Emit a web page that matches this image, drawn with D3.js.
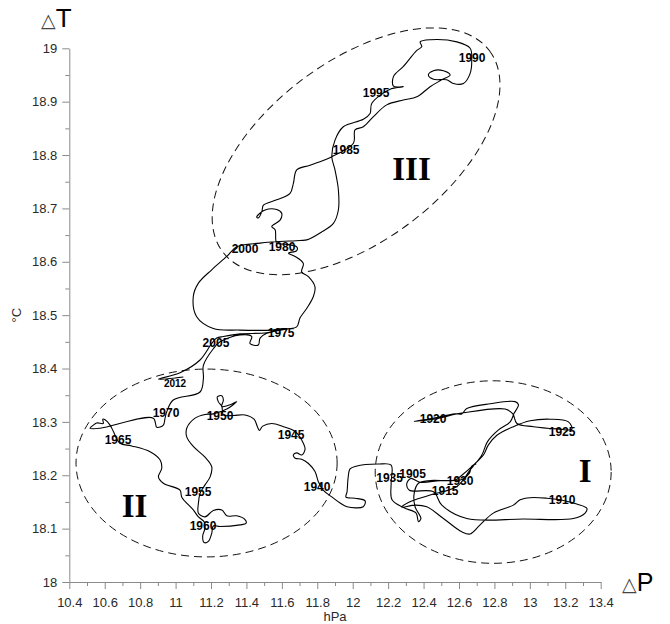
<!DOCTYPE html>
<html><head><meta charset="utf-8">
<script src="https://cdn.jsdelivr.net/npm/d3@7"></script>
<style>body{margin:0;background:#fff}svg{display:block}</style>
</head><body><svg id="c" width="670" height="624"></svg>
<script>
// ---- data ----
const xTicks = [10.4,10.6,10.8,11,11.2,11.4,11.6,11.8,12,12.2,12.4,12.6,12.8,13,13.2,13.4];
const yTicks = [18,18.1,18.2,18.3,18.4,18.5,18.6,18.7,18.8,18.9,19];

// trajectory (ΔP hPa, ΔT °C), in time order
const traj1901_1935 = [[12.697,18.221],[12.672,18.217],[12.659,18.204],[12.616,18.192],[12.493,18.190],[12.380,18.187],[12.328,18.194],[12.305,18.184],[12.320,18.172],[12.456,18.169],[12.503,18.144],[12.644,18.119],[12.964,18.118],[13.246,18.119],[13.312,18.129],[13.322,18.138],[13.265,18.146],[13.171,18.154],[13.096,18.157],[13.002,18.158],[12.945,18.154],[12.907,18.144],[12.794,18.129],[12.719,18.107],[12.663,18.090],[12.616,18.094],[12.512,18.119],[12.418,18.141],[12.352,18.144],[12.277,18.140],[12.314,18.149],[12.437,18.163],[12.588,18.179],[12.663,18.210],[12.729,18.238],[12.761,18.263],[12.823,18.285],[12.889,18.300],[12.911,18.316],[12.936,18.332],[12.917,18.338],[12.776,18.334],[12.644,18.325],[12.616,18.315],[12.578,18.315],[12.437,18.306],[12.347,18.301],[12.456,18.305],[12.625,18.317],[12.860,18.324],[12.904,18.315],[12.927,18.297],[13.020,18.291],[13.152,18.287],[13.237,18.286],[13.218,18.300],[13.115,18.305],[13.002,18.302],[12.907,18.291],[12.814,18.275],[12.766,18.257],[12.738,18.238],[12.681,18.219],[12.616,18.200],[12.578,18.191],[12.437,18.190],[12.371,18.185],[12.347,18.166],[12.352,18.141],[12.385,18.119],[12.371,18.113],[12.358,18.129],[12.290,18.139],[12.222,18.154],[12.217,18.186],[12.217,18.219],[12.143,18.221],[12.019,18.217],[11.985,18.212],[11.974,18.195],[11.968,18.169],[11.962,18.159],[12.013,18.157],[12.070,18.152],[12.059,18.141],[11.968,18.141],[11.929,18.148],[11.884,18.159]];
const traj1935_1970 = [[11.833,18.172],[11.806,18.188],[11.787,18.207],[11.750,18.222],[11.712,18.230],[11.675,18.232],[11.665,18.238],[11.684,18.242],[11.712,18.238],[11.731,18.249],[11.712,18.266],[11.675,18.282],[11.609,18.291],[11.543,18.297],[11.492,18.292],[11.473,18.284],[11.462,18.291],[11.443,18.305],[11.392,18.313],[11.326,18.312],[11.270,18.313],[11.261,18.329],[11.241,18.338],[11.236,18.347],[11.261,18.349],[11.270,18.341],[11.261,18.329],[11.308,18.332],[11.345,18.338],[11.289,18.324],[11.213,18.315],[11.166,18.314],[11.110,18.307],[11.063,18.288],[11.063,18.272],[11.100,18.254],[11.166,18.234],[11.204,18.216],[11.195,18.197],[11.166,18.182],[11.138,18.166],[11.129,18.148],[11.129,18.129],[11.166,18.122],[11.213,18.134],[11.261,18.135],[11.289,18.124],[11.345,18.124],[11.392,18.117],[11.398,18.110],[11.364,18.107],[11.251,18.104],[11.213,18.105],[11.204,18.091],[11.185,18.076],[11.161,18.074],[11.153,18.086],[11.166,18.101],[11.161,18.113],[11.129,18.122],[11.100,18.135],[11.035,18.159],[11.025,18.172],[10.931,18.185],[10.903,18.197],[10.922,18.213],[10.912,18.229],[10.856,18.244],[10.752,18.255],[10.686,18.260],[10.649,18.282],[10.630,18.294],[10.602,18.304],[10.589,18.305],[10.592,18.297],[10.555,18.298],[10.536,18.294],[10.517,18.288],[10.573,18.288],[10.874,18.307]];
const traj1970_2012 = [[10.894,18.290],[10.931,18.294],[10.940,18.306],[10.950,18.319],[10.987,18.341],[11.138,18.356],[11.157,18.381],[11.157,18.406],[11.213,18.437],[11.251,18.450],[11.364,18.463],[11.430,18.460],[11.420,18.447],[11.467,18.444],[11.477,18.457],[11.515,18.466],[11.628,18.474],[11.684,18.478],[11.703,18.495],[11.741,18.513],[11.778,18.535],[11.787,18.553],[11.750,18.572],[11.712,18.581],[11.721,18.597],[11.675,18.610],[11.637,18.616],[11.684,18.621],[11.684,18.628],[11.618,18.633],[11.571,18.635],[11.562,18.660],[11.543,18.666],[11.590,18.678],[11.599,18.691],[11.571,18.698],[11.505,18.697],[11.458,18.684],[11.467,18.682],[11.487,18.694],[11.496,18.706],[11.571,18.716],[11.646,18.728],[11.665,18.747],[11.684,18.772],[11.759,18.781],[11.882,18.797],[12.004,18.822],[12.013,18.847],[12.060,18.853],[12.117,18.872],[12.192,18.894],[12.286,18.903],[12.362,18.909],[12.437,18.928],[12.503,18.941],[12.550,18.950],[12.512,18.958],[12.456,18.958],[12.427,18.950],[12.456,18.942],[12.531,18.941],[12.569,18.934],[12.625,18.934],[12.663,18.953],[12.672,18.978],[12.663,19.000],[12.588,19.012],[12.437,19.016],[12.381,19.012],[12.390,19.003],[12.362,18.996],[12.286,18.966],[12.230,18.947],[12.230,18.929],[12.286,18.928],[12.217,18.924],[12.108,18.897],[12.098,18.878],[12.060,18.867],[11.947,18.853],[11.900,18.828],[11.882,18.797],[11.900,18.772],[11.919,18.735],[11.919,18.697],[11.891,18.672],[11.825,18.656],[11.741,18.641],[11.703,18.640],[11.477,18.635],[11.345,18.628],[11.289,18.610],[11.204,18.585],[11.129,18.560],[11.100,18.535],[11.119,18.497],[11.213,18.475],[11.364,18.472],[11.543,18.472],[11.609,18.475],[11.515,18.467],[11.364,18.465],[11.270,18.460],[11.232,18.457],[11.204,18.447],[11.138,18.416],[11.025,18.392],[10.903,18.380],[11.044,18.384]];

// year labels: [text, ΔP, ΔT]
const yearLabels = [["1905",12.338,18.202],["1910",13.182,18.154],["1915",12.522,18.170],["1920",12.454,18.305],["1925",13.182,18.281],["1930",12.606,18.189],["1935",12.208,18.195],["1940",11.799,18.178],["1945",11.652,18.275],["1950",11.251,18.311],["1955",11.127,18.169],["1960",11.155,18.105],["1965",10.675,18.266],["1970",10.946,18.317],["1975",11.596,18.467],["1980",11.601,18.628],["1985",11.963,18.809],["1990",12.674,18.982],["1995",12.132,18.916],["2000",11.392,18.624],["2005",11.228,18.448]];
const endLabel = ["2012",10.997,18.371];

// regimes
const regimeNames = ["I","II","III"];
const regimeCentres = [[12.793,18.206],[11.175,18.223],[12.019,18.807]];
const regimeRadii = [[0.666,0.171],[0.737,0.176],[0.943,0.168]];
const regimeTilt = [0,0,37];
const regimeLabelPos = [[13.312,18.208],[10.768,18.142],[12.332,18.774]];

// ---- drawing ----
const svg = d3.select("#c");
const x = d3.scaleLinear().domain([10.4,13.4]).range([69.3,600.7]);
const y = d3.scaleLinear().domain([18,19]).range([582,48.3]);
const font = "'Liberation Sans', Arial, sans-serif";
const axisCol = "#8a8a8a", textCol = "#2a2a2a";

function styleAxis(g){
  g.select(".domain").attr("stroke",axisCol);
  g.selectAll(".tick line").attr("stroke",axisCol);
  g.selectAll(".tick text").attr("fill",textCol).style("font-family",font).style("font-size","13px");
}
const mid = a => a.slice(0,-1).map((v,i)=>(v+a[i+1])/2);
const fmt = d3.format("~g");

const gx = svg.append("g").attr("transform",`translate(0,${y(18)})`)
  .call(d3.axisBottom(x).tickValues(xTicks).tickSize(7).tickSizeOuter(0).tickPadding(9).tickFormat(fmt));
styleAxis(gx);
const gxm = svg.append("g").attr("transform",`translate(0,${y(18)})`)
  .call(d3.axisBottom(x).tickValues(mid(xTicks)).tickSize(4).tickFormat(""));
gxm.select(".domain").remove(); styleAxis(gxm);

const gy = svg.append("g").attr("transform",`translate(${x(10.4)},0)`)
  .call(d3.axisLeft(y).tickValues(yTicks).tickSize(7).tickSizeOuter(0).tickPadding(5).tickFormat(fmt));
styleAxis(gy);
const gym = svg.append("g").attr("transform",`translate(${x(10.4)},0)`)
  .call(d3.axisLeft(y).tickValues(mid(yTicks)).tickSize(4).tickFormat(""));
gym.select(".domain").remove(); styleAxis(gym);

// axis titles
svg.append("text").attr("x",x(11.9)).attr("y",621).attr("text-anchor","middle")
  .style("font-family",font).style("font-size","13px").attr("fill",textCol).text("hPa");
svg.append("text").attr("transform",`translate(21,${y(18.5)}) rotate(-90)`).attr("text-anchor","middle")
  .style("font-family",font).style("font-size","13px").attr("fill",textCol).text("°C");
const tT = svg.append("text").attr("x",41).attr("y",27).style("font-family",font).attr("fill","#000");
tT.append("tspan").style("font-size","19px").style("font-family","'DejaVu Sans',sans-serif").attr("fill","#444").text("△");
tT.append("tspan").style("font-size","26px").text("T");
const tP = svg.append("text").attr("x",622).attr("y",591).style("font-family",font).attr("fill","#000");
tP.append("tspan").style("font-size","19px").style("font-family","'DejaVu Sans',sans-serif").attr("fill","#444").text("△");
tP.append("tspan").style("font-size","25px").text("P");

// regime ellipses
regimeNames.forEach((n,i)=>{
  const [cp,ct] = regimeCentres[i];
  const cx = x(cp), cy = y(ct);
  const rx = x(cp+regimeRadii[i][0]) - cx;
  const ry = cy - y(ct+regimeRadii[i][1]);
  svg.append("ellipse").attr("cx",cx).attr("cy",cy).attr("rx",rx).attr("ry",ry)
    .attr("transform",`rotate(${-regimeTilt[i]},${cx},${cy})`)
    .attr("fill","none").attr("stroke","#111").attr("stroke-width",1).attr("stroke-dasharray","8,5");
  svg.append("text").attr("x",x(regimeLabelPos[i][0])).attr("y",y(regimeLabelPos[i][1]))
    .attr("text-anchor","middle").attr("dominant-baseline","central")
    .style("font-family","'Liberation Serif','Times New Roman',serif").style("font-weight","bold")
    .style("font-size","33px").attr("fill","#000").text(n);
});

// trajectory
const traj = traj1901_1935.concat(traj1935_1970, traj1970_2012);
const line = d3.line().x(d=>x(d[0])).y(d=>y(d[1])).curve(d3.curveCatmullRom.alpha(0.5));
svg.append("path").attr("d",line(traj)).attr("fill","none").attr("stroke","#000").attr("stroke-width",1.1);

// year labels
svg.selectAll("text.yr").data(yearLabels).join("text").attr("class","yr")
  .attr("x",d=>x(d[1])).attr("y",d=>y(d[2])).attr("text-anchor","middle").attr("dominant-baseline","central")
  .style("font-family",font).style("font-weight","bold").style("font-size","12px").attr("fill","#000")
  .text(d=>d[0]);
svg.append("text").attr("x",x(endLabel[1])).attr("y",y(endLabel[2])).attr("text-anchor","middle").attr("dominant-baseline","central")
  .style("font-family",font).style("font-weight","bold").style("font-size","10px").attr("fill","#000").text(endLabel[0]);
</script></body></html>
